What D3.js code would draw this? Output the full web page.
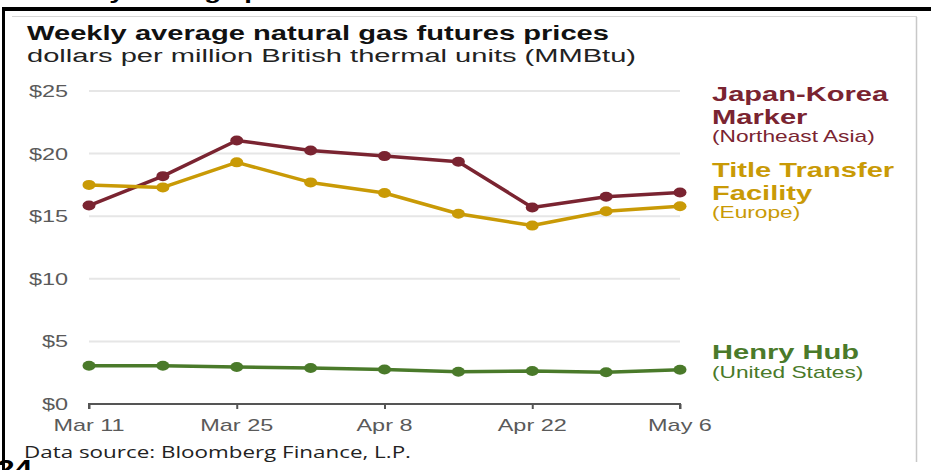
<!DOCTYPE html>
<html>
<head>
<meta charset="utf-8">
<script src="https://cdn.jsdelivr.net/npm/d3@7"></script>
<style>
  body { margin: 0; background: #fff; }
  svg { display: block; font-family: "Liberation Sans", Arial, sans-serif; }
</style>
</head>
<body>
<div id="chart"></div>
<script>
// Weekly dates (2024) and series values
var weeks = ["2024-03-11", "2024-03-18", "2024-03-25", "2024-04-01", "2024-04-08",
             "2024-04-15", "2024-04-22", "2024-04-29", "2024-05-06"];
var jkm = [15.85, 18.2, 21.05, 20.25, 19.8, 19.35, 15.7, 16.55, 16.9];
var ttf = [17.5, 17.3, 19.3, 17.7, 16.85, 15.2, 14.25, 15.4, 15.8];
var henryHub = [3.05, 3.05, 2.95, 2.87, 2.76, 2.58, 2.63, 2.53, 2.74];

var yTicks = [0, 5, 10, 15, 20, 25];
var xTicks = ["2024-03-11", "2024-03-25", "2024-04-08", "2024-04-22", "2024-05-06"];

var seriesNames = [["Japan-Korea", "Marker"], ["Title Transfer", "Facility"], ["Henry Hub"]];
var seriesNotes = ["(Northeast Asia)", "(Europe)", "(United States)"];

var parse = d3.timeParse("%Y-%m-%d");
var SX = 1.38; // picture is stretched sideways

var width = 931, height = 470;
var svg = d3.select("#chart").append("svg")
    .attr("width", width)
    .attr("height", height);

// helper: text stretched sideways like the picture
function addText(x, y, str, size, weight, color, anchor, sx) {
    return svg.append("text")
        .attr("transform", "translate(" + x + "," + y + ") scale(" + (sx || SX) + ",1)")
        .attr("text-anchor", anchor || "start")
        .style("font-size", size + "px")
        .style("font-weight", weight || "normal")
        .style("fill", color)
        .text(str);
}

// helper: text squeezed to a given width
function fitText(x, y, str, size, weight, color, len, family) {
    var t = svg.append("text")
        .attr("x", x).attr("y", y)
        .attr("textLength", len)
        .attr("lengthAdjust", "spacingAndGlyphs")
        .style("font-size", size + "px")
        .style("font-weight", weight)
        .style("fill", color)
        .text(str);
    if (family) t.style("font-family", family);
    return t;
}

// screenshot frame bits
addText(30, -1, "Weekly average price", 20, "bold", "#000");
svg.append("rect").attr("x", 2).attr("y", 7).attr("width", 929).attr("height", 4).attr("fill", "#000");
svg.append("rect").attr("x", 2).attr("y", 7).attr("width", 3).attr("height", 463).attr("fill", "#000");
svg.append("line").attr("x1", 12).attr("x2", 917).attr("y1", 16.5).attr("y2", 16.5)
    .attr("stroke", "#d6d6d6").attr("stroke-width", 1);
svg.append("line").attr("x1", 916.5).attr("x2", 916.5).attr("y1", 17).attr("y2", 462)
    .attr("stroke", "#c8c8c8").attr("stroke-width", 1.5);
addText(-3, 477, "24", 23, "bold", "#000");

// titles
fitText(27, 40, "Weekly average natural gas futures prices", 19.5, "bold", "#111", 582);
fitText(27, 62, "dollars per million British thermal units (MMBtu)", 18, "normal", "#222", 609);

// scales
var x = d3.scaleTime()
    .domain([parse(weeks[0]), parse(weeks[weeks.length - 1])])
    .range([89, 680]);
var y = d3.scaleLinear()
    .domain([0, 25])
    .range([404, 91]);

// gridlines
svg.selectAll("grid")
    .data(yTicks.filter(d => d > 0))
    .enter()
    .append("line")
    .attr("x1", 89).attr("x2", 680)
    .attr("y1", d => y(d)).attr("y2", d => y(d))
    .attr("stroke", "#e6e6e6")
    .attr("stroke-width", 2);

// y labels
yTicks.forEach(function (d) {
    addText(68, y(d) + 6, "$" + d, 17, "normal", "#5a5a5a", "end");
});

// x axis
var xAxis = svg.append("g")
    .attr("transform", "translate(0,404)")
    .call(d3.axisBottom(x)
        .tickValues(xTicks.map(parse))
        .tickSize(5)
        .tickFormat(""));
xAxis.select(".domain").attr("stroke", "#555").attr("stroke-width", 2)
    .attr("d", "M89,5V0H680V5");
xAxis.selectAll(".tick line").attr("stroke", "#555").attr("stroke-width", 2);

xTicks.forEach(function (d) {
    addText(x(parse(d)), 431, d3.timeFormat("%b %-d")(parse(d)), 17, "normal", "#5a5a5a", "middle");
});

// series
var series = [
    { values: jkm, color: "#7a2431" },
    { values: ttf, color: "#c99a06" },
    { values: henryHub, color: "#4a7a2a" }
];

var line = d3.line()
    .x((d, i) => x(parse(weeks[i])))
    .y(d => y(d));

series.forEach(function (s) {
    svg.append("path")
        .datum(s.values)
        .attr("d", line)
        .attr("fill", "none")
        .attr("stroke", s.color)
        .attr("stroke-width", 3.5)
        .attr("stroke-linejoin", "round");

    svg.selectAll("dot")
        .data(s.values)
        .enter()
        .append("ellipse")
        .attr("cx", (d, i) => x(parse(weeks[i])))
        .attr("cy", d => y(d))
        .attr("rx", 6.5)
        .attr("ry", 5)
        .attr("fill", s.color);
});

// series labels on the right
var labelTops = [101, 177, 359];
series.forEach(function (s, k) {
    var yy = labelTops[k];
    seriesNames[k].forEach(function (name, j) {
        addText(712, yy + j * 22.5, name, 20.5, "bold", s.color, "start", 1.42);
    });
    addText(712, yy + (seriesNames[k].length - 1) * 22.5 + 18.5, seriesNotes[k], 16, "normal", s.color, "start", 1.42);
});

// source
fitText(24, 458, "Data source: Bloomberg Finance, L.P.", 15.5, "normal", "#222", 387, "'Open Sans', sans-serif");
</script>
</body>
</html>
